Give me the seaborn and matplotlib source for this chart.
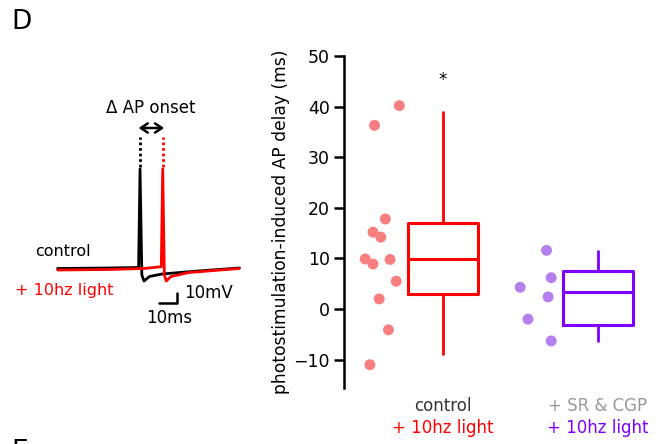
#! /bin/env python3

'''
Panel D: AP onset delay under 10 Hz photostimulation, example traces + box/strip plot
'''

import numpy as np
import pandas as pd
import matplotlib
matplotlib.use('Agg')
import matplotlib.pyplot as plt
import seaborn as sns

# ---- data ----
groups = ['control', 'SR & CGP']
group_labels_top = ['control', '+ SR & CGP']
group_labels_bottom = ['+ 10hz light', '+ 10hz light']

ctrl_delay = [40.2, 36.3, 17.8, 15.2, 14.2, 9.9, 8.9, 9.8, 5.5, 2.0, -4.1, -11.0]
ctrl_jitter = [-0.28, -0.44, -0.37, -0.45, -0.40, -0.50, -0.45, -0.34, -0.30, -0.41, -0.35, -0.47]
srcgp_delay = [11.6, 6.2, 4.3, 2.4, -2.0, -6.3]
srcgp_jitter = [-0.33, -0.30, -0.50, -0.32, -0.45, -0.30]

# box statistics as drawn (whisker low, q1, median, q3, whisker high)
ctrl_box = [-8.8, 3.0, 9.9, 17.1, 39.0]
srcgp_box = [-6.3, -3.1, 3.4, 7.6, 11.4]

# example voltage traces (ms, mV)
ctrl_t = [32, 60, 77.0, 77.8, 78.8, 80.0, 83, 90, 110, 133]
ctrl_v = [-63.5, -63.0, -62.5, 36, -70, -76, -71.5, -69.0, -66.0, -63.0]
light_t = [32, 60, 80, 89.6, 90.4, 91.3, 92.4, 95, 105, 133]
light_v = [-65.0, -64.5, -63.5, -61.7, 36, -70, -76, -71.5, -67.5, -63.5]
spike_peak = 36

sns.set_style('white')
plt.rcParams.update({'font.size': 11, 'text.color': 'black',
                     'axes.labelcolor': 'black'})
plt.rcParams['font.family'] = ['DejaVu Sans']

W, H = 664, 444
fig = plt.figure(figsize=(W / 100, H / 100), dpi=100)


def px_rect(x0, y0, x1, y1):
    # pixel box (top-left origin) -> figure fraction rect
    return [x0 / W, 1 - y1 / H, (x1 - x0) / W, (y1 - y0) / H]


# ---- left: traces ----
tax = fig.add_axes(px_rect(0, 60, 264, 340))
sns.lineplot(x=ctrl_t, y=ctrl_v, ax=tax, color='black', lw=2.0, sort=False)
sns.lineplot(x=light_t, y=light_v, ax=tax, color='#ff0000', lw=2.0, sort=False)
tax.plot([ctrl_t[3]] * 2, [spike_peak + 2, 68], color='black', lw=2.0,
         ls=(0, (1, 1)))
tax.plot([light_t[4]] * 2, [spike_peak + 2, 68], color='#ff0000', lw=2.0,
         ls=(0, (1, 1)))
tax.annotate('', xy=(ctrl_t[3] - 0.8, 77), xytext=(light_t[4] + 0.8, 77),
             arrowprops=dict(arrowstyle='<->,head_length=0.45,head_width=0.3',
                             color='black', lw=1.8, shrinkA=0, shrinkB=0))
tax.text(84, 97, '\u0394 AP onset', ha='center', va='center', fontsize=12)
# scale bar 10 ms / 10 mV
tax.plot([88.3, 98.3, 98.3], [-97.7, -97.7, -87.7], color='black', lw=1.8)
tax.text(102.5, -88.5, '10mV', ha='left', va='center', fontsize=12)
tax.text(93.8, -113, '10ms', ha='center', va='center', fontsize=12)
tax.text(19.4, -47, 'control', ha='left', va='center', fontsize=11.5)
tax.text(8.3, -85, '+ 10hz light', ha='left', va='center', fontsize=11.5,
         color='#ff0000')
tax.set_xlim(0, 264 / 1.8)
tax.set_ylim(-135, 145)
tax.axis('off')

# ---- right: delays ----
ax = fig.add_axes(px_rect(344, 56, 664, 388))
pos = [0, 1]
box_colors = ['#ff0000', '#7f00ff']
pt_colors = ['#f77f7f', '#b57fee']

df = pd.DataFrame({
    'x': np.concatenate([pos[0] + np.array(ctrl_jitter),
                         pos[1] + np.array(srcgp_jitter)]),
    'delay': ctrl_delay + srcgp_delay,
    'group': [groups[0]] * len(ctrl_delay) + [groups[1]] * len(srcgp_delay),
})
sns.scatterplot(data=df, x='x', y='delay', hue='group',
                palette=dict(zip(groups, pt_colors)), s=62, linewidth=0,
                legend=False, ax=ax)

stats = []
for b in (ctrl_box, srcgp_box):
    stats.append(dict(whislo=b[0], q1=b[1], med=b[2], q3=b[3], whishi=b[4],
                      fliers=[]))
for st, p, c in zip(stats, pos, box_colors):
    ax.bxp([st], positions=[p], widths=0.45, showcaps=False,
           boxprops=dict(color=c, lw=2.2),
           medianprops=dict(color=c, lw=2.2),
           whiskerprops=dict(color=c, lw=2.0))

ax.text(pos[0], 45.3, '*', ha='center', va='center', fontsize=12)

ax.set_xlim(-0.637, 1.428)
ax.set_ylim(-15.6, 50)
ax.set_yticks([-10, 0, 10, 20, 30, 40, 50])
ax.set_xticks([])
ax.set_xlabel('')
ax.set_ylabel('photostimulation-induced AP delay (ms)', fontsize=12.3)
ax.yaxis.set_label_coords(-0.169, 0.5)
ax.tick_params(axis='y', direction='out', length=7, width=1.8, labelsize=12.5,
               left=True, colors='black', pad=3)
sns.despine(ax=ax, bottom=True)
ax.spines['left'].set_linewidth(1.8)
ax.spines['left'].set_color('black')

lab_col_top = ['#333333', '#999999']
for p, top, bot, ct, cb in zip(pos, group_labels_top, group_labels_bottom,
                               lab_col_top, box_colors):
    x_pix = (p + 0.637) / (1.428 + 0.637) * 320 + 344
    fig.text(x_pix / W, 1 - 406 / H, top, ha='center', va='center',
             color=ct, fontsize=12)
    fig.text(x_pix / W, 1 - 428 / H, bot, ha='center', va='center',
             color=cb, fontsize=12)

fig.text(11 / W, 1 - 22 / H, 'D', ha='left', va='center', fontsize=19)
fig.text(11 / W, 1 - 439 / H, 'E', ha='left', va='top', fontsize=19)

fig.savefig('out.png', dpi=100)
